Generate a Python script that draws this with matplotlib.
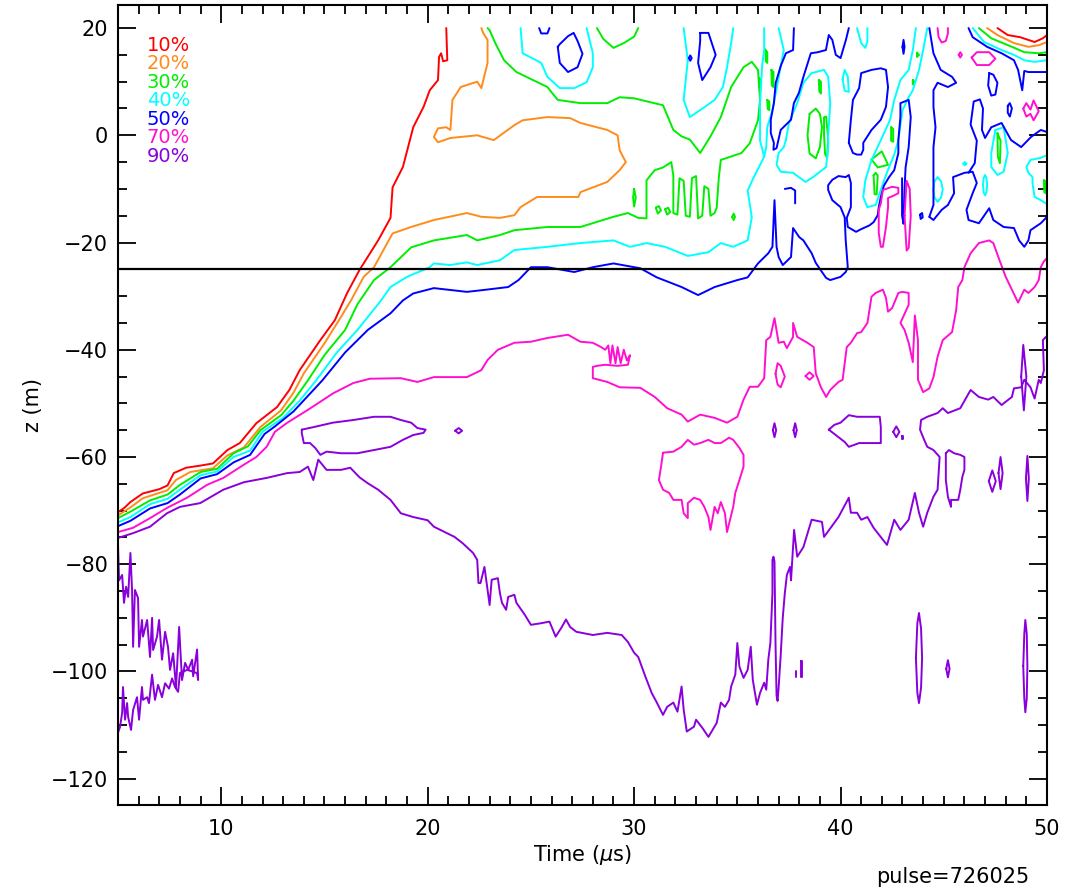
import matplotlib
matplotlib.use("Agg")
import matplotlib.pyplot as plt
from matplotlib.ticker import MultipleLocator

# contour levels (legend order) and colours
levels = ["10%", "20%", "30%", "40%", "50%", "70%", "90%"]
level_colors = ["#ff0000", "#ff8c1a", "#00ee00", "#00ffff", "#0000ff", "#ff10d0", "#8a00dc"]

# every trace is a list of (time [us], z [m]) points

# ---- 10% ----
red_diag = [(5.0, -70.3), (5.3, -69.5), (5.6, -68.4), (6.2, -66.8), (7.0, -66.0), (7.4, -65.3),
            (7.7, -63.0), (8.3, -62.0), (9.0, -61.6), (9.6, -61.2), (10.3, -58.7), (10.9, -57.4),
            (11.7, -53.7), (12.7, -50.7), (13.3, -47.5), (13.8, -43.8), (14.8, -38.2), (15.5, -34.5),
            (16.1, -29.4), (16.7, -25.1), (17.6, -19.6), (18.2, -15.4), (18.3, -9.7), (18.8, -5.9),
            (19.3, 1.5), (19.8, 5.3), (20.1, 8.4), (20.5, 10.3), (20.55, 14.6), (20.65, 15.3),
            (20.75, 13.8), (20.95, 14.0), (20.9, 20.0)]
red_top = [(47.6, 20.0), (48.1, 18.7), (48.7, 18.3), (49.4, 17.4), (49.8, 18.1), (50.0, 18.7)]

# ---- 20% ----
orange_main = [(5.0, -70.9), (5.6, -69.4), (6.2, -67.7), (7.4, -66.2), (7.8, -64.3), (8.5, -62.8),
               (9.6, -62.1), (10.3, -59.7), (11.1, -58.2), (11.9, -54.4), (12.9, -51.3), (13.5, -48.0),
               (14.0, -44.4), (15.0, -38.8), (15.7, -34.5), (16.3, -30.7), (16.9, -26.4), (17.4, -24.6),
               (18.3, -18.3), (19.2, -17.1), (20.3, -15.8), (21.9, -14.5), (22.6, -15.2), (23.5, -15.4),
               (24.2, -14.9), (24.5, -13.4), (25.3, -11.5), (27.3, -11.5), (27.4, -10.6), (28.7, -8.7),
               (29.3, -6.5), (29.6, -5.0), (29.3, -2.8), (29.2, 0.0), (28.7, 1.0), (27.4, 2.3),
               (26.9, 3.2), (25.8, 3.4), (24.6, 2.8), (24.2, 1.9), (23.2, -0.9), (22.4, 0.0),
               (21.1, -0.5), (20.5, -1.3), (20.3, -0.3), (20.5, 1.3), (20.9, 1.5), (21.1, 1.0),
               (21.2, 6.6), (21.6, 9.0), (22.4, 10.0), (22.6, 8.8), (22.9, 13.5), (22.9, 17.8),
               (22.7, 19.0), (22.6, 20.0)]
orange_top = [(47.1, 20.0), (47.6, 18.7), (48.4, 17.2), (49.1, 16.5), (49.6, 16.8), (50.0, 17.4)]

# ---- 30% ----
green_main = [(5.0, -71.4), (5.6, -70.2), (6.55, -68.1), (7.4, -67.0), (8.0, -65.2), (9.0, -62.8),
              (9.8, -62.2), (10.6, -59.3), (11.3, -58.0), (11.9, -55.0), (12.9, -52.2), (13.5, -49.5),
              (14.2, -45.7), (15.0, -41.0), (16.0, -36.3), (16.6, -31.5), (17.4, -27.0), (18.2, -24.6),
              (19.2, -20.9), (20.3, -19.6), (21.9, -18.6), (22.4, -19.6), (23.5, -18.6), (24.2, -17.7),
              (25.8, -17.1), (27.4, -17.1), (29.0, -15.2), (29.7, -14.5), (30.2, -15.4), (30.6, -15.5),
              (30.6, -8.4), (31.0, -6.5), (31.4, -6.0), (31.8, -5.0), (31.9, -7.5), (31.9, -14.5),
              (32.1, -14.8), (32.2, -8.0), (32.4, -8.5), (32.5, -15.0), (32.7, -15.2), (32.8, -8.0),
              (33.0, -7.6), (33.1, -15.5), (33.3, -15.0), (33.4, -9.5), (33.6, -10.0), (33.7, -15.0),
              (33.9, -14.5), (34.0, -13.5), (34.1, -8.0), (34.2, -4.6), (35.2, -3.3), (35.6, -1.5),
              (36.0, 2.8), (36.1, 6.6), (36.0, 12.2), (35.7, 13.7), (35.3, 12.7), (34.7, 9.0),
              (34.2, 3.4), (33.7, -0.2), (33.2, -3.3), (32.7, -0.8), (32.3, -0.2), (31.9, 1.0),
              (31.4, 5.6), (30.0, 6.9), (29.3, 7.1), (28.7, 6.0), (27.4, 6.0), (26.3, 6.6),
              (25.8, 9.0), (24.3, 11.8), (23.7, 14.0), (23.3, 17.0), (23.0, 19.6), (22.9, 20.0)]
green_top_u = [(28.2, 20.0), (28.5, 18.0), (29.0, 16.3), (29.5, 17.2), (30.0, 18.4), (30.2, 20.0)]
green_top = [(46.7, 20.0), (47.3, 18.1), (48.3, 16.5), (48.9, 15.5), (49.6, 15.3), (50.0, 15.5)]
green_bits = [
    [(30.0, -10.0), (30.08, -11.6), (30.0, -13.3), (29.95, -11.6), (30.0, -10.0)],
    [(34.75, -15.2), (34.82, -14.6), (34.89, -15.2), (34.82, -15.8), (34.75, -15.2)],
    [(31.05, -13.5), (31.2, -13.2), (31.3, -14.0), (31.15, -14.6), (31.05, -13.5)],
    [(31.5, -13.8), (31.65, -13.5), (31.75, -14.3), (31.6, -14.8), (31.5, -13.8)],
    [(38.5, 4.0), (38.8, 5.0), (39.0, 4.0), (39.1, 1.5), (39.0, -2.2), (38.8, -4.3), (38.5, -3.4),
     (38.4, 0.0), (38.5, 4.0)],
    [(39.2, 3.3), (39.3, 3.5), (39.4, -0.5), (39.35, -4.2), (39.25, -3.5), (39.2, 0.0), (39.2, 3.3)],
    [(38.95, 10.3), (39.05, 10.0), (39.05, 7.8), (38.97, 8.2), (38.95, 10.3)],
    [(41.5, -4.5), (42.0, -3.0), (42.3, -5.5), (41.8, -6.0), (41.5, -4.5)],
    [(41.6, -7.5), (41.7, -7.0), (41.8, -7.5), (41.75, -11.0), (41.65, -11.0), (41.6, -7.5)],
    [(42.45, 1.5), (42.55, 1.2), (42.55, -1.2), (42.45, -1.0), (42.45, 1.5)],
    [(47.6, 0.4), (47.75, -1.0), (47.72, -5.2), (47.62, -4.0), (47.6, 0.4)],
    [(49.85, -8.4), (49.95, -8.6), (49.95, -10.8), (49.87, -10.6), (49.85, -8.4)],
    [(36.35, 16.0), (36.45, 15.5), (36.45, 13.5), (36.38, 13.8), (36.35, 16.0)],
    [(36.05, 10.7), (36.12, 10.4), (36.12, 8.8), (36.05, 9.0), (36.05, 10.7)],
    [(36.45, 6.6), (36.55, 6.3), (36.55, 4.7), (36.47, 4.9), (36.45, 6.6)],
    [(36.65, 12.2), (36.75, 11.8), (36.75, 9.0), (36.67, 9.3), (36.65, 12.2)],
    [(43.7, 15.4), (43.8, 15.0), (43.7, 14.6), (43.7, 15.4)],
    [(43.5, 10.3), (43.6, 9.9), (43.5, 9.5), (43.5, 10.3)],
]

# ---- 40% ----
cyan_main = [(5.0, -72.2), (5.6, -71.2), (6.55, -68.8), (7.4, -67.8), (8.0, -66.1), (9.0, -63.4),
             (9.8, -62.7), (10.6, -60.0), (11.4, -58.8), (12.0, -55.3), (13.0, -52.7), (13.8, -49.5),
             (14.6, -45.7), (15.6, -40.5), (16.6, -36.3), (17.7, -31.0), (18.2, -28.3), (19.0, -26.4),
             (20.1, -24.6), (20.3, -23.9), (21.1, -24.2), (21.9, -23.7), (22.4, -24.2), (23.5, -23.3),
             (24.2, -21.4), (25.8, -20.8), (27.4, -20.1), (29.0, -19.6), (29.8, -20.8), (30.6, -20.1),
             (31.5, -20.8), (32.6, -22.5), (33.6, -21.8), (34.2, -20.1), (34.8, -20.8), (35.5, -19.6),
             (35.7, -15.3), (35.5, -10.3), (35.8, -7.8), (36.3, -4.0), (36.1, -1.0), (36.1, 6.0),
             (36.2, 12.9), (36.3, 16.0), (36.3, 20.0)]
cyan_inner = [(37.0, 20.0), (37.25, 15.9), (37.1, 12.9), (36.9, 8.6), (36.7, 4.7), (36.45, 1.5),
              (36.4, -2.2), (36.3, -4.0)]
cyan_top = [(46.4, 20.0), (46.95, 17.4), (47.8, 15.9), (48.4, 15.0), (48.9, 14.0), (49.4, 13.7), (50.0, 14.0)]
cyan_bits = [
    [(24.5, 20.0), (24.6, 15.3), (25.5, 13.5), (25.8, 10.9), (26.4, 8.8), (27.1, 8.8), (27.7, 9.9),
     (28.0, 12.7), (28.0, 15.3), (27.7, 20.0)],
    [(32.4, 20.0), (32.6, 14.0), (32.4, 6.6), (32.7, 3.4), (33.2, 4.7), (33.9, 6.6), (34.3, 9.0),
     (34.5, 12.7), (34.7, 17.2), (34.8, 20.0)],
    [(37.35, -0.9), (37.5, 2.3), (37.9, 6.0), (38.2, 9.8), (38.6, 11.6), (39.2, 12.2), (39.4, 10.9),
     (39.5, 6.0), (39.4, -0.3), (39.4, -2.2), (39.3, -5.9), (38.7, -7.7), (38.3, -8.7), (37.7, -7.0),
     (37.1, -6.8), (36.9, -5.5), (37.0, -3.3), (37.25, -2.2), (37.35, -0.9)],
    [(40.1, 10.5), (40.2, 12.2), (40.35, 11.0), (40.4, 8.1), (40.2, 8.3), (40.1, 10.5)],
    [(40.8, 20.0), (41.0, 17.2), (41.2, 16.3), (41.3, 17.5), (41.3, 20.0)],
    [(43.65, 20.0), (43.5, 15.9), (43.3, 12.2), (42.9, 10.3), (42.6, 6.6), (42.4, 2.9), (41.95, -0.9),
     (41.5, -4.6), (41.2, -8.4), (41.1, -11.5), (41.3, -13.4), (41.7, -13.0), (41.95, -10.2),
     (42.2, -7.4), (42.6, -3.6), (42.8, -0.9), (43.0, 4.7), (43.3, 7.1), (43.5, 8.4), (43.8, 12.2),
     (44.0, 15.9), (44.2, 20.0)],
    [(47.5, 1.0), (47.3, -3.3), (47.3, -5.9), (47.6, -7.4), (47.9, -6.8), (48.1, -3.3), (48.0, -0.9),
     (47.9, 1.5), (47.5, 1.0)],
    [(50.0, -3.7), (49.7, -4.2), (49.2, -4.6), (49.0, -5.9), (49.1, -7.0), (49.3, -7.8), (49.3, -9.0),
     (49.4, -11.5), (49.7, -12.1), (49.95, -12.7), (50.0, -12.5)],
    [(44.5, -10.1), (44.55, -8.6), (44.7, -7.8), (44.87, -8.6), (44.95, -10.1), (44.87, -11.6),
     (44.7, -12.4), (44.55, -11.6), (44.5, -10.1)],
    [(46.9, -9.3), (46.93, -8.0), (47.0, -7.4), (47.07, -8.0), (47.1, -9.3), (47.07, -10.6),
     (47.0, -11.2), (46.93, -10.6), (46.9, -9.3)],
    [(45.95, -5.3), (46.02, -5.0), (46.1, -5.3), (46.02, -5.6), (45.95, -5.3)],
]

# ---- 50% ----
blue_main = [(5.0, -72.9), (5.6, -71.9), (6.55, -69.6), (7.4, -68.6), (8.0, -67.0), (9.0, -64.0),
             (9.8, -63.2), (10.6, -61.0), (11.4, -59.6), (12.1, -55.7), (12.6, -54.3), (13.5, -51.5),
             (14.9, -45.7), (16.0, -40.5), (17.1, -36.3), (18.2, -33.2), (18.8, -30.8), (19.3, -29.5),
             (20.3, -28.5), (21.9, -29.2), (22.6, -28.9), (23.9, -28.3), (24.4, -27.0), (25.0, -24.6),
             (25.8, -24.6), (27.1, -25.5), (28.0, -24.6), (29.0, -23.9), (30.3, -24.8), (31.1, -26.5),
             (32.3, -28.3), (33.1, -29.8), (33.9, -28.3), (35.0, -27.0), (35.5, -26.5), (36.0, -23.9),
             (36.5, -22.0), (36.7, -20.8), (36.8, -12.1), (36.9, -20.8), (37.0, -22.7), (37.2, -24.2),
             (37.6, -22.7), (37.7, -17.3), (38.0, -19.0), (38.2, -19.6), (38.6, -22.0), (38.8, -23.8),
             (39.1, -25.5), (39.3, -26.6), (39.5, -27.0), (40.0, -26.4), (40.25, -25.5), (40.35, -24.6),
             (40.25, -19.6), (40.2, -15.3), (40.0, -13.4), (39.6, -12.1), (39.4, -10.2), (39.4, -9.3),
             (39.6, -8.3), (39.9, -7.6), (40.25, -7.8), (40.4, -7.4), (40.5, -8.9), (40.5, -13.4),
             (40.3, -15.4), (40.35, -17.1), (40.75, -18.0), (41.0, -17.5), (41.4, -16.8), (41.6, -16.2),
             (41.8, -14.9), (41.85, -13.4), (41.95, -11.5), (42.1, -9.4), (42.35, -7.8), (42.6, -6.5),
             (42.8, -3.3), (42.8, -0.9), (42.9, 3.4), (42.9, 6.0), (43.3, 6.6), (43.4, 3.4),
             (43.3, -2.2), (43.15, -6.0), (43.1, -10.0), (43.05, -16.5), (42.98, -15.0), (42.98, -8.0)]
blue_right = [(44.3, -15.2), (44.5, -15.8), (44.9, -13.9), (45.2, -13.0), (45.5, -10.8), (45.45, -7.8),
              (46.0, -7.0), (46.4, -6.8), (46.6, -8.9), (46.4, -10.8), (46.1, -13.9), (46.2, -15.8),
              (46.7, -16.4), (46.9, -15.3), (47.2, -13.6), (47.4, -15.8), (47.9, -17.1), (48.4, -17.3),
              (48.65, -19.6), (48.9, -20.8), (49.1, -19.6), (49.2, -17.7), (49.7, -16.4), (50.0, -15.2)]
blue_down = [(44.3, 20.0), (44.5, 15.3), (44.85, 12.2), (45.4, 10.9), (45.6, 9.8), (45.2, 9.0),
             (44.7, 9.8), (44.5, 8.4), (44.5, 5.3), (44.6, 1.5), (44.5, -2.2), (44.5, -7.8),
             (44.5, -13.0), (44.3, -15.2)]
blue_edge = [(46.2, -7.0), (46.5, -5.2), (46.6, -1.0), (46.3, 2.0), (46.45, 6.3), (46.75, 6.7),
             (46.9, 5.0), (46.85, 1.0), (47.0, -0.5), (47.3, 1.5), (47.8, 2.3), (48.26, -0.9),
             (48.75, -2.2), (49.23, -0.3), (49.7, 1.0), (50.0, 0.6)]
blue_top = [(46.2, 20.0), (46.4, 18.3), (47.1, 16.5), (47.8, 15.3), (48.4, 14.0), (48.6, 12.2),
            (48.8, 8.4), (48.9, 12.0), (49.1, 11.8), (49.6, 11.8), (50.0, 11.8)]
blue_bits = [
    [(37.74, 20.0), (37.7, 15.9), (37.35, 15.3), (37.1, 12.9), (36.86, 9.8), (36.77, 6.0), (36.62, 2.9),
     (36.62, 0.4), (36.77, -1.4), (36.75, -2.7), (36.9, -2.4), (37.1, 1.0), (37.6, 2.9), (37.74, 6.0),
     (37.98, 7.9), (38.2, 10.9), (38.56, 15.3), (38.9, 15.5), (39.29, 15.9), (39.43, 18.7),
     (39.6, 17.8), (39.77, 15.0), (40.0, 14.4), (40.26, 17.8), (40.4, 20.0)],
    [(40.4, -1.4), (40.5, 2.9), (40.6, 6.6), (40.9, 8.8), (41.0, 11.6), (41.5, 12.2), (41.95, 12.5),
     (42.2, 12.2), (42.3, 9.0), (42.2, 5.3), (41.95, 2.9), (41.5, 1.0), (41.1, -1.4), (41.1, -2.7),
     (41.0, -3.6), (40.8, -3.6), (40.6, -3.3), (40.4, -1.4)],
    [(26.3, 16.5), (26.4, 13.5), (26.8, 11.8), (27.26, 12.7), (27.5, 15.2), (27.26, 17.6),
     (27.07, 19.1), (26.8, 18.5), (26.4, 17.0), (26.3, 16.5)],
    [(25.4, 20.0), (25.5, 19.0), (25.8, 19.0), (25.9, 20.0)],
    [(33.2, 19.1), (33.6, 19.1), (33.95, 15.0), (33.7, 12.7), (33.3, 10.3), (33.1, 13.5), (33.2, 17.6),
     (33.2, 19.1)],
    [(32.65, 14.4), (32.72, 14.9), (32.79, 14.4), (32.72, 13.9), (32.65, 14.4)],
    [(43.0, 16.5), (43.05, 17.8), (43.1, 16.5), (43.05, 15.2), (43.0, 16.5)],
    [(47.2, 11.6), (47.4, 11.3), (47.6, 9.8), (47.5, 7.6), (47.3, 7.4), (47.15, 9.3), (47.2, 11.6)],
    [(48.1, 5.5), (48.2, 6.0), (48.3, 5.0), (48.2, 3.5), (48.1, 4.2), (48.1, 5.5)],
    [(37.3, -10.0), (37.6, -9.8), (37.8, -10.3), (37.8, -12.7)],
    [(43.85, -14.8), (43.95, -14.5), (43.98, -15.3), (43.88, -15.6), (43.85, -14.8)],
]

# ---- 70% ----
magenta_main = [(5.0, -74.0), (5.73, -73.2), (6.55, -71.4), (7.37, -69.5), (8.34, -67.6), (9.31, -65.2),
                (10.1, -63.9), (11.07, -61.5), (11.7, -60.0), (12.2, -58.1), (12.6, -55.3), (13.2, -53.6),
                (14.2, -51.2), (15.43, -48.1), (16.4, -46.2), (17.2, -45.4), (18.7, -45.3), (19.5, -46.0),
                (20.3, -45.1), (21.9, -45.1), (22.6, -43.8), (22.9, -41.9), (23.4, -40.0), (24.2, -38.7),
                (25.0, -38.5), (25.8, -37.8), (26.8, -37.2), (27.4, -38.5), (28.0, -38.7), (28.4, -39.5),
                (28.6, -40.0), (28.75, -39.2), (28.85, -42.5), (28.95, -39.2), (29.1, -42.5), (29.2, -39.5),
                (29.35, -42.5), (29.5, -40.0), (29.65, -42.0), (29.8, -41.0), (29.7, -42.8), (29.2, -43.0),
                (28.6, -42.8), (28.2, -43.0), (28.0, -43.2), (28.0, -45.3), (28.7, -46.0), (29.3, -47.0),
                (30.3, -47.1), (31.0, -48.8), (31.6, -50.9), (32.3, -52.1), (32.6, -53.4), (33.2, -52.1),
                (33.9, -52.7), (34.5, -53.6), (35.0, -52.5), (35.3, -49.3), (35.6, -46.9), (36.0, -46.9),
                (36.3, -45.3), (36.4, -38.2), (36.6, -37.6), (36.8, -34.1), (37.0, -38.7), (37.25, -38.5),
                (37.4, -39.7), (37.7, -37.6), (37.7, -35.0), (37.9, -37.6), (38.4, -38.7), (38.7, -39.5),
                (38.8, -44.4), (39.05, -47.0), (39.3, -48.8), (39.5, -47.5), (39.9, -46.0), (40.1, -45.6),
                (40.3, -39.5), (40.5, -38.7), (40.8, -36.9), (41.0, -36.7), (41.3, -35.0), (41.5, -30.1),
                (41.7, -29.4), (42.05, -28.8), (42.2, -30.3), (42.3, -32.9), (42.5, -32.2), (42.8, -29.4),
                (43.0, -29.2), (43.3, -29.4), (43.3, -31.6), (42.9, -35.0), (43.1, -36.3), (43.3, -38.7),
                (43.5, -42.3), (43.6, -33.6), (43.75, -38.2), (43.75, -45.6), (44.0, -47.9), (44.3, -47.2),
                (44.5, -45.1), (44.7, -41.3), (44.95, -38.2), (45.4, -36.7), (45.6, -32.6), (45.7, -28.3),
                (45.9, -27.0), (46.0, -24.6), (46.3, -22.0), (46.7, -20.1), (47.2, -19.6), (47.4, -20.1),
                (47.7, -23.3), (48.0, -26.4), (48.3, -28.8), (48.6, -31.2), (48.9, -28.8), (49.1, -29.4),
                (49.4, -28.3), (49.6, -27.0), (49.7, -24.6), (49.85, -23.5), (50.0, -22.9)]
magenta_bits = [
    [(31.4, -59.2), (31.9, -59.0), (32.3, -58.1), (32.6, -56.8), (32.9, -57.7), (33.2, -57.4),
     (33.6, -56.8), (33.9, -57.4), (34.2, -57.4), (34.6, -56.4), (34.8, -56.8), (35.1, -58.3),
     (35.3, -59.6), (35.3, -61.8), (35.1, -64.3), (34.9, -66.7), (34.8, -69.3), (34.5, -74.0),
     (34.4, -70.5), (34.2, -68.4), (34.05, -70.5), (33.9, -69.3), (33.7, -73.6), (33.6, -71.2),
     (33.4, -69.3), (33.2, -68.0), (32.9, -67.6), (32.6, -68.6), (32.6, -71.4), (32.4, -70.5),
     (32.3, -68.0), (31.9, -68.0), (31.7, -66.7), (31.4, -66.1), (31.2, -64.3), (31.3, -61.9),
     (31.4, -59.2)],
    [(36.85, -44.5), (36.95, -42.5), (37.1, -43.0), (37.3, -45.0), (37.1, -47.0), (36.95, -46.5),
     (36.85, -44.5)],
    [(38.3, -44.9), (38.5, -44.2), (38.7, -44.9), (38.5, -45.6), (38.3, -44.9)],
    [(44.7, 20.0), (44.75, 18.3), (44.9, 17.3), (45.1, 17.6), (45.2, 19.0), (45.2, 20.0)],
    [(46.35, 14.5), (46.6, 15.5), (47.2, 15.5), (47.5, 14.3), (47.2, 13.1), (46.6, 13.1), (46.35, 14.5)],
    [(45.72, 15.0), (45.8, 15.5), (45.88, 15.0), (45.8, 14.5), (45.72, 15.0)],
    [(48.85, 5.0), (49.0, 6.0), (49.2, 4.8), (49.35, 6.5), (49.6, 4.5), (49.35, 2.8), (49.2, 4.0),
     (49.0, 3.5), (48.85, 5.0)],
    [(41.85, -13.9), (41.95, -12.7), (42.05, -10.2), (42.35, -9.8), (42.5, -9.6), (42.8, -9.8),
     (42.8, -10.8), (42.6, -11.2), (42.3, -11.7), (42.3, -13.4), (42.2, -17.1), (42.05, -20.8),
     (41.95, -20.8), (41.85, -18.2), (41.85, -13.9)],
    [(43.1, -15.0), (43.2, -8.5), (43.35, -10.0), (43.4, -15.0), (43.3, -21.0), (43.2, -21.5),
     (43.1, -15.0)],
]

# ---- 90% ----
purple_main = [(5.0, -75.1), (5.73, -74.2), (6.55, -73.0), (7.37, -70.5), (8.0, -69.3), (8.98, -68.6),
               (10.1, -66.1), (11.1, -64.7), (12.2, -63.9), (13.2, -63.0), (13.8, -62.8), (14.2, -61.8),
               (14.46, -64.3), (14.7, -60.5), (15.1, -62.4), (15.8, -62.4), (16.25, -62.0), (16.7, -63.8),
               (17.1, -64.9), (17.6, -66.1), (18.2, -68.0), (18.7, -70.5), (19.3, -71.2), (20.0, -71.8),
               (20.3, -73.0), (21.3, -74.9), (21.7, -76.1), (22.2, -77.9), (22.4, -79.2), (22.46, -83.5),
               (22.56, -83.5), (22.75, -80.5), (23.0, -87.6), (23.1, -82.9), (23.4, -82.6), (23.5, -85.4),
               (23.6, -87.2), (23.8, -88.5), (23.9, -86.1), (24.2, -85.7), (24.3, -87.2), (24.7, -89.4),
               (25.0, -91.3), (25.5, -91.0), (25.9, -90.7), (26.2, -93.5), (26.5, -91.7), (26.7, -90.3),
               (26.9, -91.7), (27.2, -92.6), (28.0, -93.2), (28.7, -92.8), (29.4, -93.2), (29.7, -94.5),
               (30.0, -96.5), (30.2, -97.3), (30.55, -101.0), (30.85, -104.0), (31.1, -105.8),
               (31.4, -108.1), (31.6, -106.6), (31.9, -105.8), (32.1, -107.5), (32.3, -102.8),
               (32.4, -107.1), (32.55, -111.2), (32.9, -110.3), (33.0, -109.0), (33.3, -110.5),
               (33.6, -112.2), (33.8, -110.9), (34.0, -109.6), (34.2, -105.8), (34.4, -106.6),
               (34.6, -105.3), (34.7, -102.8), (34.9, -100.6), (35.0, -94.7), (35.1, -99.1),
               (35.3, -101.2), (35.5, -99.7), (35.65, -95.4), (35.75, -101.6), (35.95, -106.2),
               (36.1, -104.0), (36.3, -102.1), (36.4, -103.4), (36.5, -97.8), (36.6, -94.7),
               (36.7, -85.4), (36.7, -79.2), (36.75, -78.6), (36.8, -79.5), (36.85, -95.0),
               (36.9, -104.5), (36.95, -105.5), (37.0, -103.0), (37.05, -100.0), (37.1, -97.0),
               (37.2, -90.0), (37.3, -85.4), (37.4, -82.0), (37.55, -80.5), (37.6, -83.0), (37.75, -73.6),
               (37.9, -78.6), (38.2, -76.8), (38.6, -71.7), (39.1, -72.1), (39.2, -74.9), (39.9, -71.2),
               (40.4, -67.6), (40.5, -70.4), (40.8, -70.4), (41.0, -71.7), (41.3, -71.2), (41.6, -73.2),
               (41.8, -74.2), (42.25, -76.4), (42.6, -71.7), (42.9, -73.6), (43.3, -71.7), (43.6, -66.7),
               (43.8, -70.4), (44.0, -73.0), (44.2, -70.4), (44.5, -67.4), (44.7, -66.1), (44.8, -60.0),
               (44.5, -58.7), (44.2, -58.1), (44.05, -56.8), (43.85, -54.9), (43.9, -53.1), (44.2, -52.5),
               (44.7, -51.8), (44.95, -50.9), (45.2, -51.8), (45.8, -50.9), (46.3, -47.5), (46.7, -48.8),
               (47.15, -49.3), (47.4, -48.8), (47.8, -50.3), (48.3, -48.8), (48.4, -47.2), (48.75, -47.0),
               (48.9, -45.6), (49.2, -47.0), (49.4, -49.1), (49.6, -45.6), (49.7, -46.2), (49.85, -43.8),
               (49.8, -38.2), (49.95, -37.6), (50.0, -37.8)]
purple_wedge = [(5.0, -76.5), (5.05, -83.0), (5.2, -82.0), (5.29, -87.2), (5.39, -84.2), (5.49, -86.1),
                (5.6, -77.9), (5.68, -84.8), (5.73, -95.4), (5.82, -84.8), (5.97, -86.3), (6.02, -95.4),
                (6.16, -90.4), (6.21, -93.5), (6.41, -90.4), (6.55, -97.3), (6.65, -90.0), (6.7, -96.0),
                (6.89, -93.5), (6.99, -90.4), (7.13, -97.8), (7.28, -92.6), (7.42, -95.4), (7.52, -99.7),
                (7.67, -96.6), (7.81, -103.0), (7.96, -91.7), (8.1, -101.6), (8.25, -98.4), (8.4, -99.7),
                (8.59, -97.8), (8.64, -100.9), (8.83, -95.9), (8.88, -101.6), (8.83, -100.3), (8.35, -99.7),
                (8.0, -100.3), (7.91, -103.8), (7.76, -102.9), (7.62, -101.3), (7.47, -103.2), (7.28, -102.2),
                (7.13, -104.8), (6.94, -102.5), (6.79, -105.3), (6.65, -100.6), (6.5, -105.9), (6.41, -104.8),
                (6.21, -105.3), (6.16, -102.9), (6.02, -109.0), (5.92, -104.8), (5.73, -107.2),
                (5.63, -110.9), (5.49, -108.5), (5.44, -105.9), (5.34, -109.0), (5.24, -102.9),
                (5.2, -107.7), (5.1, -110.3), (5.0, -111.4)]
purple_bits = [
    [(13.9, -54.9), (14.5, -54.4), (15.4, -53.6), (16.4, -53.1), (17.4, -52.5), (18.2, -52.5),
     (18.7, -53.1), (19.2, -53.6), (19.5, -54.6), (19.9, -54.9), (19.8, -55.5), (19.3, -55.9),
     (18.8, -56.8), (18.2, -58.1), (17.4, -58.7), (16.6, -59.3), (15.8, -59.3), (15.1, -59.0),
     (14.8, -59.6), (14.55, -58.3), (14.3, -57.4), (14.0, -57.4), (13.9, -55.5), (13.9, -54.9)],
    [(21.33, -55.1), (21.5, -54.6), (21.67, -55.1), (21.5, -55.6), (21.33, -55.1)],
    [(39.43, -54.9), (39.7, -54.0), (40.0, -53.6), (40.4, -52.2), (40.8, -52.5), (41.3, -52.5),
     (41.9, -52.5), (41.95, -54.4), (41.95, -57.4), (41.5, -57.4), (40.9, -57.4), (40.4, -58.1),
     (40.2, -57.2), (39.9, -56.3), (39.43, -54.9)],
    [(42.55, -55.3), (42.7, -54.3), (42.85, -55.3), (42.7, -56.3), (42.55, -55.3)],
    [(42.97, -56.0), (43.03, -56.0), (43.03, -56.6), (42.97, -56.6), (42.97, -56.0)],
    [(36.72, -55.0), (36.8, -53.7), (36.88, -55.0), (36.8, -56.3), (36.72, -55.0)],
    [(37.72, -55.0), (37.8, -53.7), (37.88, -55.0), (37.8, -56.3), (37.72, -55.0)],
    [(45.1, -59.3), (45.25, -58.7), (45.5, -59.3), (45.8, -59.6), (46.0, -60.0), (46.0, -62.4),
     (45.9, -63.7), (45.8, -66.1), (45.7, -68.0), (45.35, -68.0), (45.35, -69.3), (45.2, -67.4),
     (45.1, -64.3), (45.1, -59.3)],
    [(47.18, -64.5), (47.35, -62.5), (47.52, -64.5), (47.35, -66.5), (47.18, -64.5)],
    [(47.65, -63.0), (47.75, -60.0), (47.85, -63.0), (47.75, -66.0), (47.65, -63.0)],
    [(48.98, -64.0), (49.05, -59.8), (49.12, -64.0), (49.05, -68.2), (48.98, -64.0)],
    [(48.75, -45.0), (48.85, -39.1), (49.0, -45.0), (48.88, -51.3), (48.75, -45.0)],
    [(43.65, -97.5), (43.72, -91.0), (43.8, -89.1), (43.9, -92.0), (43.95, -97.5), (43.9, -103.0),
     (43.8, -105.9), (43.72, -104.0), (43.65, -97.5)],
    [(45.12, -99.5), (45.2, -97.9), (45.28, -99.5), (45.2, -101.1), (45.12, -99.5)],
    [(48.85, -99.0), (48.9, -93.0), (48.95, -90.4), (49.02, -93.0), (49.05, -99.0), (49.02, -105.0),
     (48.95, -107.6), (48.9, -105.0), (48.85, -99.0)],
    [(37.85, -100.0), (37.85, -101.0)],
    [(38.08, -98.0), (38.12, -98.0), (38.12, -101.0), (38.08, -101.0), (38.08, -98.0)],
]

traces = {
    "10%": [red_diag, red_top],
    "20%": [orange_main, orange_top],
    "30%": [green_main, green_top_u, green_top] + green_bits,
    "40%": [cyan_main, cyan_inner, cyan_top] + cyan_bits,
    "50%": [blue_main, blue_right, blue_down, blue_edge, blue_top] + blue_bits,
    "70%": [magenta_main] + magenta_bits,
    "90%": [purple_main, purple_wedge] + purple_bits,
}

z_ref = -25.0
pulse = 726025

plt.rcParams["font.family"] = ["DejaVu Sans"]
fig = plt.figure(figsize=(10.7, 8.96), dpi=100)
ax = fig.add_axes([0.1103, 0.1016, 0.8682, 0.8928])

for name, color in zip(levels, level_colors):
    for pts in traces[name]:
        t, z = zip(*pts)
        ax.plot(t, z, color=color, lw=1.4, solid_joinstyle="round", solid_capstyle="round")

ax.axhline(z_ref, color="black", lw=1.6)

ax.set_xlim(5, 50)
ax.set_ylim(-124.9, 24.3)
ax.xaxis.set_major_locator(MultipleLocator(10))
ax.xaxis.set_minor_locator(MultipleLocator(1))
ax.yaxis.set_major_locator(MultipleLocator(20))
ax.yaxis.set_minor_locator(MultipleLocator(5))
ax.tick_params(which="both", direction="in", top=True, right=True, width=1.3, labelsize=15)
ax.tick_params(which="major", length=13)
ax.tick_params(which="minor", length=6.5)
ax.tick_params(axis="x", which="major", pad=10)
ax.tick_params(axis="y", which="major", pad=7)
for sp in ax.spines.values():
    sp.set_linewidth(1.5)

ax.set_xlabel("Time ($\\mu$s)", fontsize=15, labelpad=3)
ax.set_ylabel("z (m)", fontsize=15, labelpad=6)

for i, (name, color) in enumerate(zip(levels, level_colors)):
    ax.text(0.031, 0.95 - i * 0.0232, name, transform=ax.transAxes, color=color,
            fontsize=14, va="center", ha="left")

fig.text(0.962, 0.010, f"pulse={pulse}", fontsize=15, ha="right", va="bottom")

fig.savefig("out.png", dpi=100)
